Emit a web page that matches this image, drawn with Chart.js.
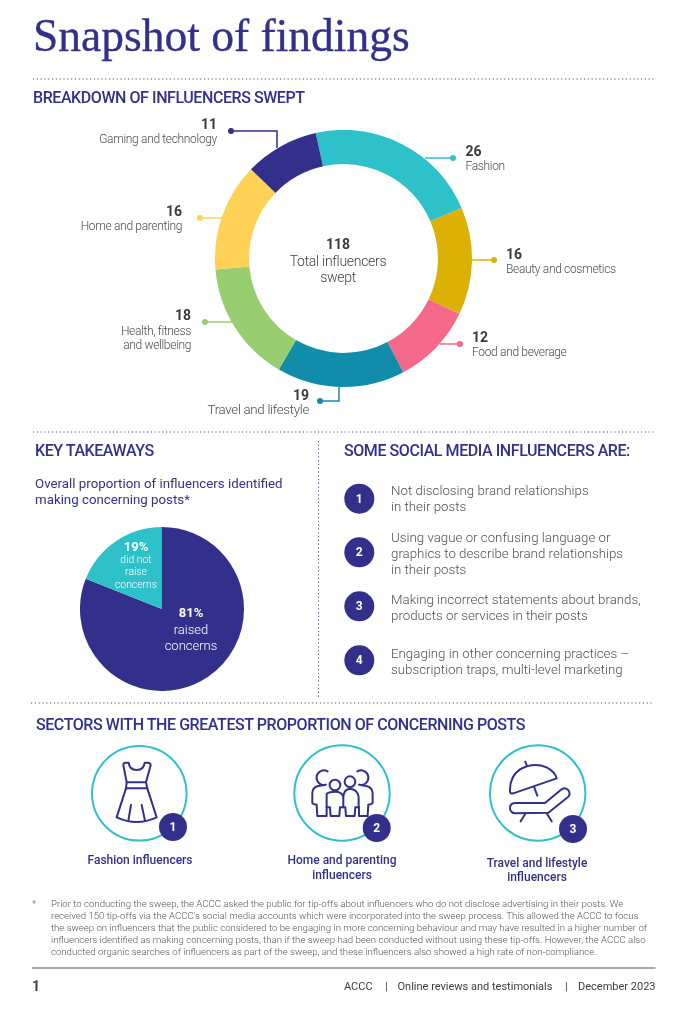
<!DOCTYPE html>
<html>
<head>
<meta charset="utf-8">
<title>Snapshot of findings</title>
<script src="https://cdn.jsdelivr.net/npm/chart.js@4"></script>
<style>
html, body { margin: 0; padding: 0; background: #fff; }
#page { position: relative; width: 696px; height: 1015px; overflow: hidden; font-family: Roboto, sans-serif; }
#page canvas, #page svg { position: absolute; }
.t { position: absolute; white-space: nowrap; line-height: 1; }
.title { font-family: "Liberation Serif", serif; font-size: 45.5px; color: #33308c; -webkit-text-stroke: .35px #33308c; }
.head { font-size: 16px; font-weight: 500; color: #33308c; letter-spacing: -.43px; }
.num { font-size: 14px; font-weight: 700; color: #3a3a3a; }
.lab { font-size: 12px; font-weight: 300; color: #4a4a55; letter-spacing: -.33px; }
.lab.big { font-size: 13.3px; letter-spacing: -.3px; }
.mid { font-size: 14px; font-weight: 300; color: #3f3f48; letter-spacing: -.3px; }
.midn { font-size: 14px; font-weight: 700; color: #3a3a3a; }
.sub { font-size: 13.3px; color: #33308c; }
.li { font-size: 13.3px; font-weight: 300; color: #4f4f58; }
.badge { font-size: 12px; font-weight: 700; color: #fff; }
.pn { font-size: 13px; font-weight: 700; color: #fff; }
.ps { font-size: 10.4px; color: #fff; font-weight: 300; }
.pl { font-size: 13px; color: #fff; font-weight: 300; }
.sec { font-size: 12px; font-weight: 500; color: #33308c; }
.fn { font-size: 9.62px; font-weight: 300; color: #55555c; }
.ft { font-size: 11px; color: #3c3c3c; }
.pg { font-size: 14px; font-weight: 700; color: #3c3c3c; }
</style>
</head>
<body>
<div id="page">
  <canvas id="donut" style="left:215px;top:130px;width:257px;height:257px"></canvas>
  <canvas id="pie" style="left:80px;top:527px;width:164px;height:164px"></canvas>
  <svg id="art" width="696" height="1015" viewBox="0 0 696 1015" fill="none">
    <g stroke="#4c47a3" stroke-width="1" stroke-dasharray="1.2 2.6">
      <line x1="33" y1="79" x2="655" y2="79"/>
      <line x1="33" y1="432" x2="654" y2="432"/>
      <line x1="31" y1="703" x2="654" y2="703"/>
      <line x1="318.5" y1="441" x2="318.5" y2="698"/>
    </g>
    <!-- leader lines -->
    <g stroke-width="1.5">
      <path d="M231 131H277V148" stroke="#33308c"/><circle cx="231" cy="131" r="3" fill="#33308c"/>
      <path d="M200 218H222" stroke="#ffd155"/><circle cx="200" cy="218" r="3" fill="#ffd155"/>
      <path d="M205 322H232" stroke="#98ce6f"/><circle cx="205" cy="322" r="3" fill="#98ce6f"/>
      <path d="M320 401H339V387" stroke="#128da9"/><circle cx="320" cy="401" r="3" fill="#128da9"/>
      <path d="M440 344H460" stroke="#f4688a"/><circle cx="460" cy="344" r="3" fill="#f4688a"/>
      <path d="M472 260H494" stroke="#dcb106"/><circle cx="494" cy="260" r="3" fill="#dcb106"/>
      <path d="M425 158H453" stroke="#2fc1c9"/><circle cx="453" cy="158" r="3" fill="#2fc1c9"/>
    </g>
    <!-- list badges -->
    <g fill="#33308c">
      <circle cx="359.3" cy="498.7" r="15"/><circle cx="359.3" cy="552.3" r="15"/>
      <circle cx="359.3" cy="606.3" r="15"/><circle cx="359.3" cy="660.3" r="15"/>
    </g>
    <!-- sector icons -->
    <g stroke="#2fc1c9" stroke-width="2">
      <circle cx="139.3" cy="793.3" r="47.3"/><circle cx="342" cy="793" r="47.7"/><circle cx="537.7" cy="793" r="47.7"/>
    </g>
    <g transform="translate(60 730) scale(.3333)" stroke="#33308c" stroke-width="6" stroke-linejoin="round" stroke-linecap="round">
      <path d="M190 105Q190 98 198 98L206 98Q208 120 230 120Q252 120 254 98L264 98Q272 98 272 106L258 157L262 175L290 262Q230 290 170 262L198 175L200 157Z"/>
      <path d="M200 157H258M198 175H262M213 225L205 272M245 225L255 272"/>
      <path d="M803 124A22 22 0 1 0 798 164L775 168Q757 172 757 190L757 218Q757 222 770 224L772 258L800 258L800 232"/>
      <circle cx="825" cy="165" r="16"/><circle cx="870" cy="155" r="16"/>
      <path d="M800 232L810 232L812 258L838 258L840 232L850 232L850 200Q846 185 825 185Q806 185 800 192Z"/>
      <path d="M850 200Q852 178 870 176Q892 178 896 200L896 232L886 232L884 258L858 258L856 232L850 232"/>
      <path d="M892 124A22 22 0 1 1 897 164L918 168Q938 172 938 190L938 218Q938 222 925 224L923 258L897 258L897 232"/>
    </g>
    <g transform="translate(400 730) scale(.3333)" stroke="#33308c" stroke-width="6" stroke-linejoin="round" stroke-linecap="round">
      <path d="M330 185Q328 140 360 118Q400 95 440 112Q465 125 470 145L340 190Q330 192 330 185Z"/>
      <path d="M376 95L381 108M402 170L412 197"/>
      <path d="M345 219L435 219L485 178Q497 170 506 182Q512 192 505 200L445 248L345 250Q330 248 330 234Q330 220 345 219Z"/>
      <path d="M377 250L362 274M440 250L455 274"/>
    </g>
    <g fill="#33308c">
      <circle cx="173" cy="827" r="14"/><circle cx="376.7" cy="828" r="14"/><circle cx="573" cy="829" r="14"/>
    </g>
    <line x1="32" y1="968" x2="655.5" y2="968" stroke="#55555a" stroke-width="1"/>
  </svg>
</div>
<script>
// donut data
const sectors = ['Fashion', 'Beauty and cosmetics', 'Food and beverage', 'Travel and lifestyle', 'Health, fitness|and wellbeing', 'Home and parenting', 'Gaming and technology'];
const sectorCounts = [26, 16, 12, 19, 18, 16, 11];
const sectorColors = ['#2fc1c9', '#dcb106', '#f4688a', '#128da9', '#98ce6f', '#ffd155', '#33308c'];
const totalCount = 118;
// pie data
const concernLabels = ['raised|concerns', 'did not|raise|concerns'];
const concernPct = [81, 19];
const concernColors = ['#33308c', '#2fc1c9'];
// text
const practices = [
  ['Not disclosing brand relationships', 'in their posts'],
  ['Using vague or confusing language or', 'graphics to describe brand relationships', 'in their posts'],
  ['Making incorrect statements about brands,', 'products or services in their posts'],
  ['Engaging in other concerning practices –', 'subscription traps, multi-level marketing']
];
const footnote = [
  "Prior to conducting the sweep, the ACCC asked the public for tip-offs about influencers who do not disclose advertising in their posts. We",
  "received 150 tip-offs via the ACCC's social media accounts which were incorporated into the sweep process. This allowed the ACCC to focus",
  "the sweep on influencers that the public considered to be engaging in more concerning behaviour and may have resulted in a higher number of",
  "influencers identified as making concerning posts, than if the sweep had been conducted without using these tip-offs. However, the ACCC also",
  "conducted organic searches of influencers as part of the sweep, and these influencers also showed a high rate of non-compliance."
];

const page = document.getElementById('page');
// x is the anchor (l, c or r), y is the vertical middle of the line
function txt(s, x, y, cls, anchor) {
  const d = document.createElement('div');
  d.className = 't ' + cls;
  d.textContent = s;
  const tx = anchor === 'r' ? '-100%' : anchor === 'c' ? '-50%' : '0';
  d.style.left = x + 'px';
  d.style.top = y + 'px';
  d.style.transform = 'translate(' + tx + ',-50%)';
  page.appendChild(d);
}

txt('Snapshot of findings', 33, 36, 'title');
txt('BREAKDOWN OF INFLUENCERS SWEPT', 33, 97.5, 'head');
txt('KEY TAKEAWAYS', 35, 450.5, 'head');
txt('SOME SOCIAL MEDIA INFLUENCERS ARE:', 344, 450.5, 'head');
txt('SECTORS WITH THE GREATEST PROPORTION OF CONCERNING POSTS', 36, 724.5, 'head');

// donut labels, same order as sectors
const spots = [[465.5, 150.5, 'l'], [506, 253.5, 'l'], [472, 336.7, 'l'], [309, 394.5, 'r'], [191, 315, 'r'], [182, 210.5, 'r'], [217, 123.7, 'r']];
sectors.forEach((name, i) => {
  const [x, y, a] = spots[i];
  txt(sectorCounts[i], x, y, 'num', a);
  // the travel label is set a size larger in the original
  const cls = i === 3 ? 'lab big' : 'lab';
  name.split('|').forEach((line, j) => txt(line, x, y + 15.5 + j * 14.3, cls, a));
});
txt(totalCount, 338, 244, 'midn', 'c');
txt('Total influencers', 338, 260.5, 'mid', 'c');
txt('swept', 338, 276.5, 'mid', 'c');

txt('Overall proportion of influencers identified', 35, 483.5, 'sub');
txt('making concerning posts*', 35, 499.5, 'sub');
txt(concernPct[1] + '%', 136, 545.7, 'pn', 'c');
concernLabels[1].split('|').forEach((line, j) => txt(line, 136, 559.5 + j * 12.6, 'ps', 'c'));
txt(concernPct[0] + '%', 191, 612, 'pn', 'c');
concernLabels[0].split('|').forEach((line, j) => txt(line, 191, 628.7 + j * 16, 'pl', 'c'));

const listY = [[490.5, 506.5], [537.7, 553.7, 569.7], [599.7, 615.7], [653.7, 669.7]];
const badgeY = [498.7, 552.3, 606.3, 660.3];
practices.forEach((lines, i) => {
  txt(i + 1, 359.3, badgeY[i], 'badge', 'c');
  lines.forEach((line, j) => txt(line, 391, listY[i][j], 'li'));
});

txt(1, 173, 827, 'badge', 'c');
txt(2, 376.7, 828, 'badge', 'c');
txt(3, 573, 829, 'badge', 'c');
txt('Fashion influencers', 140, 860, 'sec', 'c');
txt('Home and parenting', 342, 860, 'sec', 'c');
txt('influencers', 342, 875, 'sec', 'c');
txt('Travel and lifestyle', 537, 863, 'sec', 'c');
txt('influencers', 537, 877, 'sec', 'c');

txt('*', 32, 904, 'fn');
footnote.forEach((line, i) => txt(line, 51, 904 + i * 12, 'fn'));
txt(1, 32, 985.5, 'pg');
txt('ACCC', 344, 985.5, 'ft');
txt('|', 385, 985.5, 'ft');
txt('Online reviews and testimonials', 397.5, 985.5, 'ft');
txt('|', 565, 985.5, 'ft');
txt('December 2023', 655.5, 985.5, 'ft', 'r');

const quiet = { legend: { display: false }, tooltip: { enabled: false } };
new Chart(document.getElementById('donut'), {
  type: 'doughnut',
  data: {
    labels: sectors,
    datasets: [{ data: sectorCounts, backgroundColor: sectorColors, borderWidth: 0 }]
  },
  options: { responsive: false, animation: false, cutout: '73.5%', rotation: -12.5, plugins: quiet }
});
new Chart(document.getElementById('pie'), {
  type: 'pie',
  data: {
    labels: concernLabels,
    datasets: [{ data: concernPct, backgroundColor: concernColors, borderWidth: 0 }]
  },
  options: { responsive: false, animation: false, plugins: quiet }
});
</script>
</body>
</html>
